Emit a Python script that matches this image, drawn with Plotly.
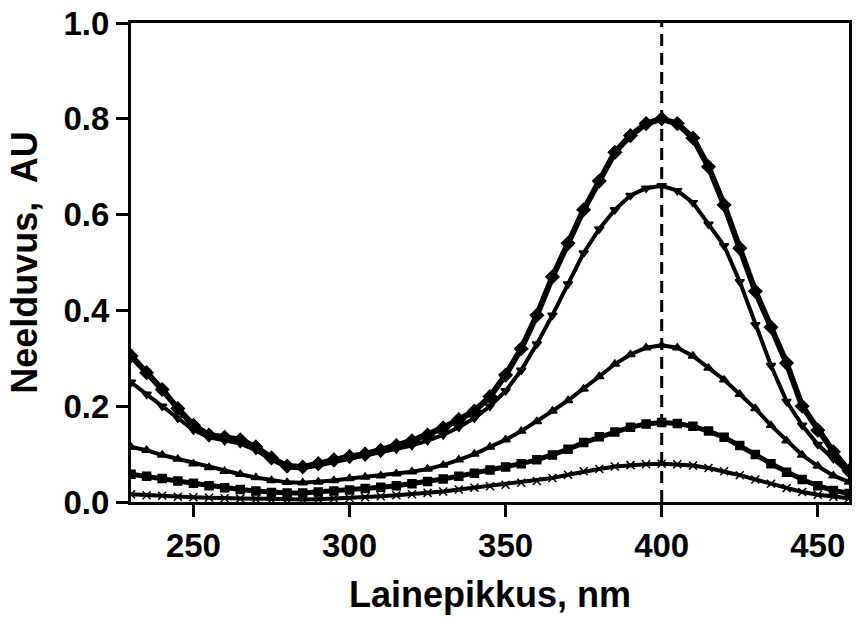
import plotly.graph_objects as go

# Wavelength grid (nm)
wavelength = [230, 235, 240, 245, 250, 255, 260, 265, 270, 275, 280, 285, 290, 295,
              300, 305, 310, 315, 320, 325, 330, 335, 340, 345, 350, 355, 360, 365,
              370, 375, 380, 385, 390, 395, 400, 405, 410, 415, 420, 425, 430, 435,
              440, 445, 450, 455, 460]

# Absorbance spectra (AU), highest to lowest concentration
abs_1 = [0.305, 0.270, 0.235, 0.195, 0.160, 0.140, 0.135, 0.130, 0.115, 0.092, 0.075, 0.073,
         0.080, 0.088, 0.095, 0.100, 0.108, 0.118, 0.128, 0.140, 0.155, 0.172, 0.190, 0.220,
         0.265, 0.320, 0.390, 0.470, 0.540, 0.610, 0.670, 0.730, 0.765, 0.790, 0.800, 0.790,
         0.760, 0.700, 0.620, 0.530, 0.440, 0.365, 0.290, 0.200, 0.150, 0.105, 0.065]
abs_2 = [0.250, 0.225, 0.200, 0.175, 0.150, 0.135, 0.128, 0.122, 0.108, 0.088, 0.072, 0.070,
         0.076, 0.083, 0.090, 0.095, 0.102, 0.110, 0.118, 0.128, 0.140, 0.156, 0.175, 0.200,
         0.232, 0.275, 0.330, 0.390, 0.455, 0.520, 0.570, 0.610, 0.640, 0.655, 0.660, 0.650,
         0.625, 0.580, 0.535, 0.460, 0.370, 0.285, 0.210, 0.160, 0.120, 0.090, 0.060]
abs_3 = [0.115, 0.108, 0.098, 0.090, 0.080, 0.072, 0.064, 0.058, 0.051, 0.045, 0.041, 0.040,
         0.042, 0.045, 0.049, 0.052, 0.055, 0.059, 0.063, 0.069, 0.077, 0.088, 0.100, 0.115,
         0.130, 0.148, 0.168, 0.190, 0.212, 0.236, 0.262, 0.288, 0.308, 0.322, 0.327, 0.322,
         0.305, 0.280, 0.255, 0.225, 0.195, 0.160, 0.128, 0.098, 0.075, 0.055, 0.042]
abs_4 = [0.058, 0.054, 0.049, 0.044, 0.039, 0.034, 0.030, 0.026, 0.023, 0.020, 0.019, 0.019,
         0.021, 0.023, 0.025, 0.028, 0.031, 0.034, 0.038, 0.043, 0.048, 0.054, 0.060, 0.067,
         0.073, 0.080, 0.088, 0.098, 0.110, 0.124, 0.136, 0.146, 0.156, 0.163, 0.166, 0.164,
         0.158, 0.148, 0.135, 0.118, 0.099, 0.080, 0.062, 0.047, 0.034, 0.024, 0.018]
abs_5 = [0.016, 0.014, 0.013, 0.011, 0.010, 0.009, 0.008, 0.007, 0.006, 0.005, 0.005, 0.005,
         0.006, 0.007, 0.008, 0.010, 0.012, 0.014, 0.016, 0.019, 0.022, 0.026, 0.030, 0.033,
         0.036, 0.040, 0.044, 0.050, 0.057, 0.064, 0.069, 0.074, 0.077, 0.079, 0.080, 0.079,
         0.076, 0.071, 0.064, 0.056, 0.047, 0.038, 0.029, 0.021, 0.015, 0.011, 0.008]

spectra = [abs_1, abs_2, abs_3, abs_4, abs_5]
symbols = ["diamond", "triangle-down", "triangle-up", "square", "x-thin"]
line_widths = [6, 4, 4, 5, 4]
marker_sizes = [10, 8, 8, 8, 8]

peak_nm = 400
x_ticks = [250, 300, 350, 400, 450]
y_ticks = [0.0, 0.2, 0.4, 0.6, 0.8, 1.0]
y_tick_text = ["0.0", "0.2", "0.4", "0.6", "0.8", "1.0"]

FONT = "Arial, Liberation Sans, sans-serif"

fig = go.Figure()
for ys, sym, lw, ms in zip(spectra, symbols, line_widths, marker_sizes):
    fig.add_trace(go.Scatter(
        x=wavelength, y=ys, mode="lines+markers",
        line=dict(color="black", width=lw),
        marker=dict(symbol=sym, size=ms, color="black",
                    line=dict(color="black", width=1.5)),
        showlegend=False, cliponaxis=True,
    ))

# dashed marker at the absorption maximum
fig.add_shape(type="line", xref="x", yref="y",
              x0=peak_nm, x1=peak_nm, y0=0, y1=1.0,
              line=dict(color="black", width=3, dash="12px,7px"))

axis_common = dict(
    showline=True, linecolor="black", linewidth=3, mirror=True,
    ticks="outside", ticklen=12, tickwidth=3, tickcolor="black",
    showgrid=False, zeroline=False,
    tickfont=dict(family=FONT, size=33, color="black", weight="bold"),
)

fig.update_xaxes(range=[230, 460], tickvals=x_ticks,
                 title=dict(text="Lainepikkus, nm", standoff=20,
                            font=dict(family=FONT, size=36, color="black", weight="bold")),
                 **axis_common)
fig.update_yaxes(range=[0, 1.0], tickvals=y_ticks, ticktext=y_tick_text,
                 title=dict(text="Neelduvus,  AU", standoff=15,
                            font=dict(family=FONT, size=36, color="black", weight="bold")),
                 **axis_common)

fig.update_layout(
    width=857, height=620,
    margin=dict(l=131, r=5, t=22, b=118),
    paper_bgcolor="white", plot_bgcolor="white",
)

fig.write_html("out.html")
